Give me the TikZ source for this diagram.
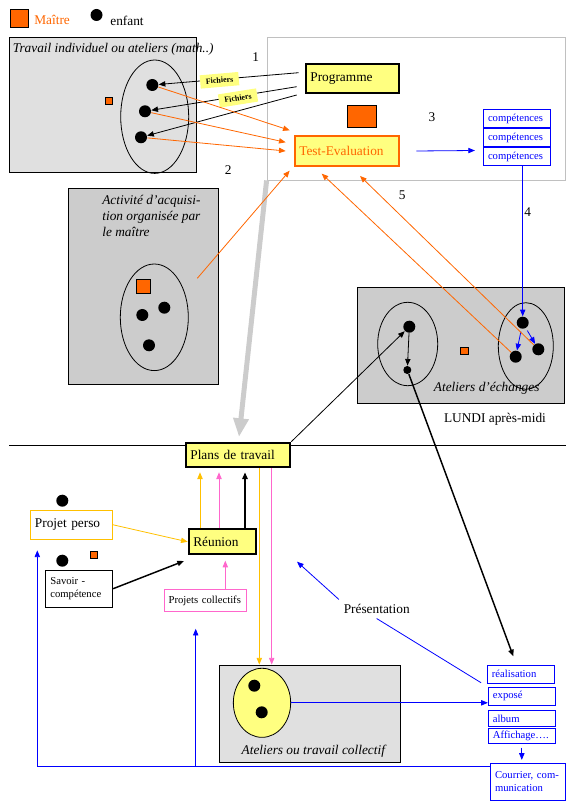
\documentclass[tikz,border=0pt]{standalone}
\usepackage{fontspec}
\setmainfont{Liberation Serif}
\usetikzlibrary{arrows.meta,shapes.geometric,calc}

\definecolor{orangem}{HTML}{FF6600}
\definecolor{jaune}{HTML}{FFFF80}
\definecolor{dore}{HTML}{FFC000}
\definecolor{rose}{HTML}{FF66CC}
\definecolor{bleu}{HTML}{0000FF}
\definecolor{grisclair}{HTML}{E0E0E0}
\definecolor{gris}{HTML}{CCCCCC}
\definecolor{griscadre}{HTML}{C0C0C0}

\tikzset{
    zone/.style={draw, inner sep=0pt},
    enfant/.style={circle, fill=black, inner sep=0pt, minimum size=9pt},
    petitenfant/.style={circle, fill=black, inner sep=0pt, minimum size=6pt},
    maitre/.style={draw, fill=orangem, inner sep=0pt, minimum size=#1},
    maitre/.default=5.5pt,
    boite/.style={draw, inner xsep=3.5pt, inner ysep=0pt, align=left},
    petiteboite/.style={boite, draw=bleu, text=bleu, font=\fontsize{8}{9.5}\selectfont},
    fichiers/.style={fill=jaune, inner sep=0pt, minimum width=29pt, minimum height=10pt, font=\fontsize{6}{7}\selectfont\bfseries},
    fleche/.style={-{Triangle[length=5pt,width=4pt]}},
}

\begin{document}
\begin{tikzpicture}[x=0.75pt, y=-0.75pt, line width=0.6pt]
    \useasboundingbox (0,0) rectangle (576,812);

    \node[maitre=14pt] (lmaitre) at (19.5,18.5) {};
    \node[right, text=orangem] (tmaitre) at (29.5,20) {Maître};
    \node[enfant] (lenfant) at (96.5,15) {};
    \node[right] (tenfant) at (105.5,21) {enfant};

    \node[zone, fill=grisclair, minimum width=140.25pt, minimum height=101.6pt] (travail) at (102.5,104.75) {};
    \node[right, font=\itshape] (ttravail) at (8,49) {Travail individuel ou ateliers (math..)};
    \draw (154.7,116.7) ellipse [x radius=34, y radius=56.7];
    \node[enfant] (e1) at (152.3,85) {};
    \node[enfant] (e2) at (145,111.3) {};
    \node[enfant] (e3) at (141,137.3) {};
    \node[maitre] (m1) at (109,101) {};

    \node[zone, draw=griscadre, minimum width=223.5pt, minimum height=107.25pt] (cadre) at (416,108.5) {};
    \coordinate (bplans) at (239,437);
    \draw[gris, line width=3.75pt, -{Triangle[length=14pt,width=11pt]}] (cadre.south west) -- (bplans);

    \node[boite, fill=jaune, line width=1.5pt, text width=63.2pt, minimum height=21.5pt] (prog) at (352.5,78.7) {Programme};
    \node[maitre, minimum width=21.75pt, minimum height=16.5pt] (m2) at (361.8,116.3) {};
    \node[boite, fill=jaune, draw=orangem, text=orangem, line width=1.5pt, text width=71.5pt, minimum height=22pt] (te) at (347,151) {Test-Evaluation};
    \foreach \i/\y in {1/118.5, 2/137.5, 3/156.5}
        \node[petiteboite, text width=43.5pt, minimum height=13.5pt] (c\i) at (517,\y) {compétences};

    \node (n1) at (255.7,56.7) {1};
    \node (n2) at (228.3,170) {2};
    \node (n3) at (432,116.7) {3};
    \node (n4) at (527.7,211.7) {4};
    \node (n5) at (402.3,195.7) {5};

    \draw[fleche] ($(prog.west)+(-6,-6)$) -- (e1);
    \draw[fleche] ($(prog.west)+(-8,8)$) -- (e2);
    \draw[fleche] ($(prog.west)+(-8,16.3)$) -- (e3);
    \node[fichiers, rotate=5] (f1) at (219.5,80.3) {Fichiers};
    \node[fichiers, rotate=9] (f2) at (238,98) {Fichiers};

    \draw[orangem, fleche] (e1) -- ($(te.north west)+(-4,-5)$);
    \draw[orangem, fleche] (e2) -- ($(te.west)+(-8,-8.7)$);
    \draw[orangem, fleche] (e3) -- ($(te.west)+(-8,0)$);
    \draw[bleu, fleche] ($(te.east)+(16,0)$) -- ($(c3.west)+(-8,-6)$);

    \node[zone, fill=gris, minimum width=112.5pt, minimum height=146.8pt] (acti) at (143.3,286.15) {};
    \node[below right, align=left, font=\fontsize{10}{12}\selectfont\itshape] (tacti) at (97.5,190) {Activité d’acquisi-\\tion organisée par\\le maître};
    \draw (154.3,317.3) ellipse [x radius=34, y radius=53.3];
    \node[maitre=10.5pt] (m3) at (143.5,286.3) {};
    \node[enfant] (a1) at (142.3,315) {};
    \node[enfant] (a2) at (164.3,307.7) {};
    \node[enfant] (a3) at (149,345.3) {};
    \coordinate (oacti) at (197.3,278.3);
    \draw[orangem, fleche] (oacti) -- ($(te.south west)+(-4,4)$);

    \node[zone, fill=gris, minimum width=155.25pt, minimum height=87pt] (echanges) at (460.8,345.3) {};
    \draw (407.7,344) ellipse [x radius=30, y radius=41.7];
    \draw (525.8,346) ellipse [x radius=27.5, y radius=43.3];
    \node[enfant] (g1) at (409.3,326.7) {};
    \node[petitenfant] (g2) at (407.3,370) {};
    \node[enfant] (r1) at (522.7,322.7) {};
    \node[enfant] (r2) at (538.3,349.3) {};
    \node[enfant] (r3) at (515.7,356.7) {};
    \node[maitre] (m4) at (464.3,350.7) {};
    \node[font=\itshape] (techanges) at (486.7,388.3) {Ateliers d’échanges};
    \node (lundi) at (495,419.3) {LUNDI après-midi};
    \draw[fleche] (g1) -- (g2);
    \draw[bleu, fleche] (c3.south -| r1) -- (r1);
    \draw[bleu, fleche, shorten <=2pt] (r1) -- (r3);
    \draw[bleu, fleche, shorten <=2pt] (r1) -- (r2);
    \draw[orangem, fleche] (r3) -- ($(te.south)+(-25.3,7)$);
    \draw[orangem, fleche] (r2) -- ($(te.south)+(13,9.3)$);

    \draw (9,445) -- (566,445);

    \node[boite, fill=jaune, line width=1.5pt, text width=71.5pt, minimum height=18.5pt] (pdt) at (238,455) {Plans de travail};
    \node[boite, fill=jaune, line width=1.5pt, text width=43.3pt, minimum height=18.8pt] (reu) at (222.2,541.8) {Réunion};
    \node[boite, draw=dore, text width=54.8pt, minimum height=21.8pt] (pp) at (71.5,524.8) {Projet perso};
    \node[boite, font=\fontsize{8}{9.5}\selectfont, text width=43.3pt, minimum height=28pt] (sc) at (79.2,588.7) {Savoir -\\compétence};
    \node[boite, draw=rose, font=\fontsize{8}{9.5}\selectfont, text width=55pt, minimum height=16.8pt] (pc) at (205.3,600.5) {Projets collectifs};
    \node[enfant] (pe1) at (62.3,500.7) {};
    \node[enfant] (pe2) at (62.3,560.7) {};
    \node[maitre] (m5) at (94,555) {};

    \node[zone, fill=grisclair, minimum width=135.5pt, minimum height=73pt] (atc) at (309.65,713.65) {};
    \node[ellipse, draw, fill=jaune, inner sep=0pt, minimum width=43pt, minimum height=51.8pt] (yel) at (262,702.8) {};
    \node[enfant] (y1) at (254.3,685.7) {};
    \node[enfant] (y2) at (261.7,712.3) {};
    \node[font=\itshape] (tatc) at (313.3,751) {Ateliers ou travail collectif};

    \node[petiteboite, text width=43.3pt, minimum height=13.5pt] (rea) at (520.8,674.3) {réalisation};
    \node[petiteboite, text width=43.3pt, minimum height=13.5pt] (exp) at (521.8,696.3) {exposé};
    \node[petiteboite, text width=43.3pt, minimum height=11.5pt] (alb) at (521.8,718.4) {album};
    \node[petiteboite, text width=43.3pt, minimum height=11.3pt] (aff) at (521.8,735.8) {Affichage….};
    \node[petiteboite, text width=49.5pt, minimum height=27.8pt] (cour) at (528,781.5) {Courrier, com-\\munication};
    \node (pres) at (376.7,609) {Présentation};

    \foreach \i/\dx/\coul/\lw in {1/-22.2/dore/0.6pt, 2/-3.2/rose/0.6pt, 3/22.8/black/1.5pt} {
        \coordinate (mo\i) at ($(reu.north)+(\dx,0)$);
        \draw[\coul, line width=\lw, fleche, shorten >=3pt] (mo\i) -- (mo\i |- pdt.south);
    }
    \foreach \i/\dx/\coul in {1/21.3/dore, 2/33.7/rose} {
        \coordinate (md\i) at ($(pdt.south)+(\dx,0)$);
        \draw[\coul, fleche] (md\i) -- (md\i |- atc.north);
    }
    \draw[dore, fleche] (pp.east) -- (reu.west);
    \draw[line width=1.1pt, fleche] (sc.east) -- ($(reu.south west)+(-3.7,5.7)$);
    \coordinate (mp) at ($(pc.north)+(20,0)$);
    \draw[rose, fleche, shorten >=4pt] (mp) -- (mp |- reu.south);

    \draw[fleche] (pdt.north east) -- (g1);
    \draw[line width=1.1pt, fleche] (g2) -- ($(rea.north)+(-7.5,-8.6)$);

    \draw[bleu, fleche] (yel.east) -- (yel.east -| exp.west);
    \draw[bleu, fleche, shorten <=3pt, shorten >=2pt] (aff.south) -- (aff.south |- cour.north);
    \coordinate (vr) at (297,561.7);
    \draw[bleu, shorten <=6pt] (exp.north west) -- (pres.south);
    \draw[bleu, fleche] (pres.north west) -- (vr);

    \coordinate (bg) at (37.3,766.7);
    \coordinate (bm) at (195.7,766.7);
    \draw[bleu] (cour.west |- bg) -- (bg);
    \draw[bleu, fleche, shorten >=8pt] (bg) -- (bg |- pp.south);
    \draw[bleu, fleche, shorten >=12.5pt] (bm) -- (bm |- pc.south);
\end{tikzpicture}
\end{document}
